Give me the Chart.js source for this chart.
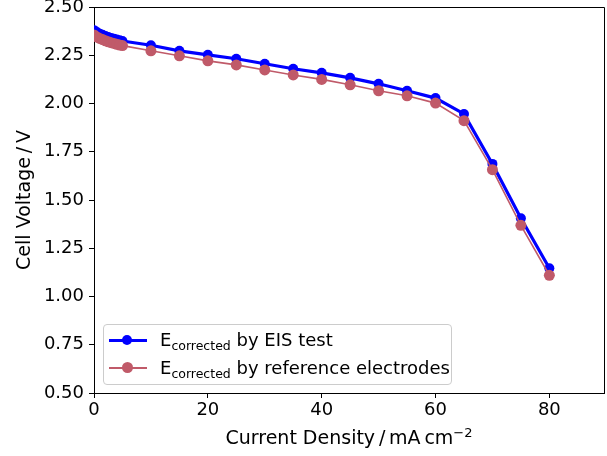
<!DOCTYPE html>
<html><head><meta charset="utf-8">
<script src="https://cdn.jsdelivr.net/npm/chart.js@4/dist/chart.umd.min.js"></script>
<style>
html,body{margin:0;padding:0;background:#fff;}
#wrap{position:relative;width:607px;height:456px;font-family:"DejaVu Sans",sans-serif;}
canvas{position:absolute;left:0;top:0;}
#legend{position:absolute;left:103px;top:324px;width:349px;height:61px;border:1px solid #cccccc;border-radius:4px;background:rgba(255,255,255,0.8);box-sizing:border-box;}
.row{position:absolute;left:0;height:28px;width:100%;}
.ln{position:absolute;left:5px;width:38px;}
.mk{position:absolute;border-radius:50%;}
.tx{position:absolute;left:56px;font-size:18px;color:#000;white-space:nowrap;line-height:20px;}
.tx sub{font-size:12.5px;vertical-align:-4px;line-height:0;}
#xt{position:absolute;left:94px;width:510px;top:426px;text-align:center;font-size:19px;color:#000;white-space:nowrap;}
#xt sup{font-size:13px;vertical-align:7px;line-height:0;}
</style></head>
<body>
<div id="wrap">
<canvas id="c" width="607" height="456"></canvas>
<div id="legend">
 <div class="row" style="top:1px">
  <div class="ln" style="top:13px;height:3px;background:#0000ff"></div>
  <div class="mk" style="left:18px;top:9px;width:10px;height:10px;background:#0000ff"></div>
  <div class="tx" style="top:4px">E<sub>corrected</sub> by EIS test</div>
 </div>
 <div class="row" style="top:29px">
  <div class="ln" style="top:13px;height:1.5px;background:rgb(192,90,105)"></div>
  <div class="mk" style="left:18px;top:8px;width:11px;height:11px;background:rgb(192,90,105)"></div>
  <div class="tx" style="top:4px">E<sub>corrected</sub> by reference electrodes</div>
 </div>
</div>
<div id="xt">Current Density&#8201;/&#8201;mA&#8201;cm<sup>−2</sup></div>
</div>
<script>
const currentDensity = [0,0.5,1,1.5,2,2.5,3,3.5,4,4.5,5,10,15,20,25,30,35,40,45,50,55,60,65,70,75,80];
const eisVoltage = [2.38,2.37,2.362,2.356,2.35,2.345,2.34,2.336,2.332,2.328,2.324,2.302,2.273,2.252,2.232,2.206,2.18,2.159,2.133,2.102,2.066,2.028,1.946,1.687,1.405,1.146];
const refVoltage = [2.355,2.345,2.337,2.331,2.325,2.32,2.315,2.311,2.307,2.303,2.3,2.273,2.247,2.221,2.2,2.174,2.148,2.125,2.097,2.066,2.04,2.002,1.911,1.657,1.369,1.11];
const xTicks = [0,20,40,60,80];
const yTicks = [0.5,0.75,1.0,1.25,1.5,1.75,2.0,2.25,2.5];

const toPts = (xs, ys) => xs.map((x,i)=>({x:x,y:ys[i]}));
const FONT = {family:'"DejaVu Sans", sans-serif', size:18};
const TFONT = {family:'"DejaVu Sans", sans-serif', size:19};

const framePlugin = {
  id:'frame',
  afterDraw(chart){
    const a = chart.chartArea, ctx = chart.ctx;
    ctx.save();
    ctx.strokeStyle = '#000'; ctx.lineWidth = 1;
    ctx.beginPath();
    ctx.moveTo(a.left, Math.round(a.top)+0.5); ctx.lineTo(Math.round(a.right)+0.5, Math.round(a.top)+0.5);
    ctx.lineTo(Math.round(a.right)+0.5, a.bottom);
    ctx.stroke();
    ctx.restore();
  }
};

new Chart(document.getElementById('c'), {
  type:'line',
  data:{datasets:[
    {label:'E corrected by reference electrodes', data:toPts(currentDensity, refVoltage),
     borderColor:'rgb(192,90,105)', backgroundColor:'rgb(192,90,105)', borderWidth:1.6,
     pointRadius:5.5, pointBorderWidth:0, pointHoverRadius:5.5, tension:0},
    {label:'E corrected by EIS test', data:toPts(currentDensity, eisVoltage),
     borderColor:'#0000ff', backgroundColor:'#0000ff', borderWidth:3.2,
     pointRadius:5, pointBorderWidth:0, pointHoverRadius:5, tension:0}
  ]},
  options:{
    responsive:false, animation:false, events:[],
    layout:{autoPadding:false, padding:{top:7,right:3,left:0,bottom:0}},
    plugins:{legend:{display:false}, tooltip:{enabled:false}},
    scales:{
      x:{type:'linear', min:0, max:89.6,
         afterFit(s){ s.height = 63; s.paddingLeft = 0; s.paddingRight = 0; },
         afterBuildTicks(s){ s.ticks = xTicks.map(v=>({value:v})); },
         ticks:{font:FONT, color:'#000', padding:2, maxRotation:0, callback:v=>String(v)},
         grid:{display:true, drawOnChartArea:false, drawTicks:true, tickLength:5, color:'#000'},
         border:{display:true, color:'#000', width:1}},
      y:{type:'linear', min:0.5, max:2.5,
         afterFit(s){ s.width = 94; s.paddingTop = 0; s.paddingBottom = 0; },
         afterBuildTicks(s){ s.ticks = yTicks.map(v=>({value:v})); },
         ticks:{font:FONT, color:'#000', padding:5, callback:v=>Number(v).toFixed(2)},
         grid:{display:true, drawOnChartArea:false, drawTicks:true, tickLength:5, color:'#000'},
         border:{display:true, color:'#000', width:1},
         title:{display:true, text:'Cell Voltage\u2009/\u2009V', font:TFONT, color:'#000', padding:{top:14,bottom:0}}}
    }
  },
  plugins:[framePlugin]
});
</script>
</body></html>
